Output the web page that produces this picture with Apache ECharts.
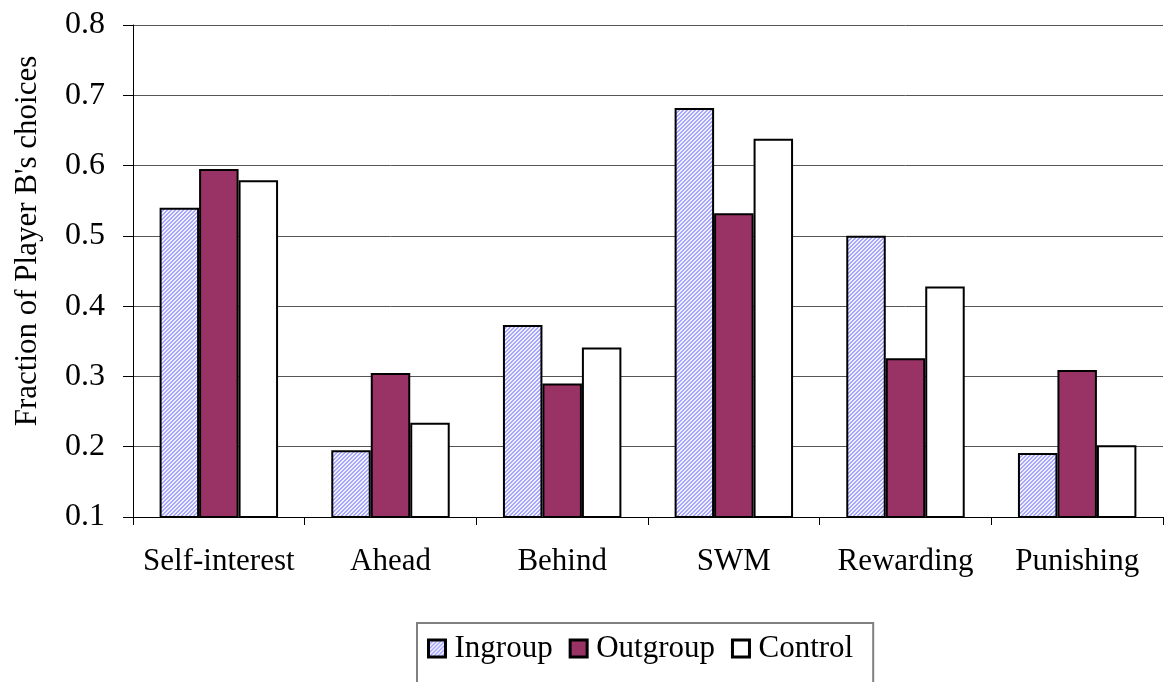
<!DOCTYPE html>
<html>
<head>
<meta charset="utf-8">
<script src="https://cdn.jsdelivr.net/npm/echarts@6/dist/echarts.min.js"></script>
<style>
  html, body { margin: 0; padding: 0; background: #fff; }
  #chart { width: 1166px; height: 682px; }
</style>
</head>
<body>
<div id="chart"></div>
<script>
var categories = ['Self-interest', 'Ahead', 'Behind', 'SWM', 'Rewarding', 'Punishing'];
var ingroup = [0.54, 0.195, 0.373, 0.682, 0.50, 0.191];
var outgroup = [0.595, 0.305, 0.29, 0.532, 0.326, 0.309];
var control = [0.579, 0.234, 0.341, 0.638, 0.428, 0.202];
var yTicks = [0.1, 0.8, 0.1]; // min, max, step

// fine diagonal hatch for the ingroup bars
function hatch() {
  var c = document.createElement('canvas');
  c.width = 4; c.height = 4;
  var ctx = c.getContext('2d');
  for (var x = 0; x < 4; x++) {
    for (var y = 0; y < 4; y++) {
      ctx.fillStyle = ((x + y) % 4 < 2) ? '#a6a6ff' : '#f0f0ff';
      ctx.fillRect(x, y, 1, 1);
    }
  }
  return c;
}

var font = '"Liberation Serif", "Times New Roman", serif';
var chart = echarts.init(document.getElementById('chart'));

function bar(name, data, color) {
  return {
    name: name,
    type: 'bar',
    data: data,
    barGap: '0%',
    barCategoryGap: '31%',
    itemStyle: { color: color, borderColor: '#000', borderWidth: 2 }
  };
}

chart.setOption({
  animation: false,
  textStyle: { fontFamily: font },
  grid: { left: 133, right: 3, top: 25, bottom: 165 },
  legend: {
    left: 417,
    top: 623,
    icon: 'rect',
    itemWidth: 17,
    itemHeight: 17,
    itemGap: 16,
    padding: [10, 20, 40, 10],
    borderColor: '#808080',
    borderWidth: 2,
    textStyle: { fontFamily: font, fontSize: 31, color: '#000', padding: [0, 0, 0, 4] },
    itemStyle: { borderColor: '#000', borderWidth: 3 }
  },
  graphic: [{
    type: 'text',
    x: 28,
    y: 241,
    rotation: Math.PI / 2,
    style: {
      text: "Fraction of Player B's choices",
      font: '31px ' + font,
      fill: '#000',
      align: 'center',
      verticalAlign: 'middle'
    }
  }],
  xAxis: {
    type: 'category',
    data: categories,
    axisLine: { lineStyle: { color: '#000', width: 1 } },
    axisTick: { show: true, length: 8, lineStyle: { color: '#000' } },
    axisLabel: { color: '#000', fontSize: 31, margin: 29, interval: 0, fontFamily: font }
  },
  yAxis: {
    type: 'value',
    min: yTicks[0],
    max: yTicks[1],
    interval: yTicks[2],
    axisLine: { show: true, lineStyle: { color: '#000', width: 1 } },
    axisTick: { show: true, length: 10, lineStyle: { color: '#000' } },
    axisLabel: {
      color: '#000', fontSize: 32, margin: 28, fontFamily: font,
      formatter: function (v) { return v.toFixed(1); }
    },
    splitLine: { lineStyle: { color: '#555', width: 1 } }
  },
  series: [
    bar('Ingroup', ingroup, { image: hatch(), repeat: 'repeat' }),
    bar('Outgroup', outgroup, '#993366'),
    bar('Control', control, '#ffffff')
  ]
});
</script>
</body>
</html>
